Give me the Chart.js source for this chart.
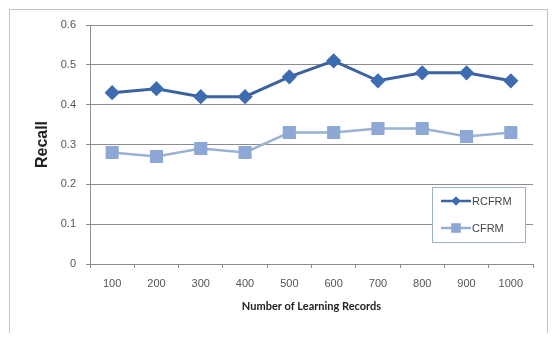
<!DOCTYPE html>
<html>
<head>
<meta charset="utf-8">
<script src="https://cdn.jsdelivr.net/npm/chart.js@4.4.0/dist/chart.umd.min.js"></script>
<style>
  html, body { margin: 0; padding: 0; background: #fff; }
  #wrap { position: relative; width: 554px; height: 349px; }
  #frame { position: absolute; left: 9px; top: 9px; width: 539px; height: 324px;
           border: 1px solid #c4c4c4; border-bottom: none; box-sizing: border-box; }
  canvas { position: absolute; left: 0; top: 0; }
</style>
</head>
<body>
<div id="wrap">
  <div id="frame"></div>
  <canvas id="lineChart" width="554" height="349"></canvas>
</div>
<script>
// data
const records = ['100', '200', '300', '400', '500', '600', '700', '800', '900', '1000'];
const rcfrm = [0.43, 0.44, 0.42, 0.42, 0.47, 0.51, 0.46, 0.48, 0.48, 0.46];
const cfrm = [0.28, 0.27, 0.29, 0.28, 0.33, 0.33, 0.34, 0.34, 0.32, 0.33];
const yTicks = [0, 0.1, 0.2, 0.3, 0.4, 0.5, 0.6];

// legend box drawn inside the plot, like the excel one
const boxLegend = {
  id: 'boxLegend',
  afterDraw(chart) {
    const c = chart.ctx;
    const x = 432, y = 187, w = 93, h = 55;
    c.save();
    c.fillStyle = '#fff';
    c.fillRect(x, y, w, h);
    c.strokeStyle = '#9fb0c4';
    c.lineWidth = 1;
    c.strokeRect(x + 0.5, y + 0.5, w, h);
    chart.data.datasets.forEach((ds, i) => {
      const ly = y + 14 + i * 27;
      c.strokeStyle = ds.borderColor;
      c.lineWidth = 2.5;
      c.beginPath();
      c.moveTo(x + 9, ly);
      c.lineTo(x + 39, ly);
      c.stroke();
      c.fillStyle = ds.pointBackgroundColor;
      Chart.helpers.drawPoint(c, {
        pointStyle: ds.pointStyle,
        radius: ds.pointStyle === 'rect' ? 6.5 : 4.5,
        borderWidth: 0
      }, x + 24, ly);
      c.fill();
      c.fillStyle = '#444';
      c.font = '11px "Liberation Sans", Arial, sans-serif';
      c.textBaseline = 'middle';
      c.fillText(ds.label, x + 40, ly + 1);
    });
    c.restore();
  }
};

const ctx = document.getElementById('lineChart').getContext('2d');
new Chart(ctx, {
  type: 'line',
  data: {
    labels: records,
    datasets: [
      {
        label: 'RCFRM',
        data: rcfrm,
        borderColor: '#3b63a1',
        backgroundColor: '#3e6cb0',
        pointBackgroundColor: '#3e6cb0',
        pointBorderColor: '#3e6cb0',
        pointStyle: 'rectRot',
        pointRadius: 5.5,
        borderWidth: 3,
        tension: 0
      },
      {
        label: 'CFRM',
        data: cfrm,
        borderColor: '#9bb1d4',
        backgroundColor: '#8ea8d6',
        pointBackgroundColor: '#8ea8d6',
        pointBorderColor: '#8ea8d6',
        pointStyle: 'rect',
        pointRadius: 7.5,
        borderWidth: 2.5,
        tension: 0
      }
    ]
  },
  options: {
    responsive: false,
    animation: false,
    layout: { padding: { left: 29, right: 21, top: 25, bottom: 32 } },
    plugins: {
      legend: { display: false },
      tooltip: { enabled: false }
    },
    scales: {
      x: {
        offset: true,
        afterFit: s => { s.height = 53; },
        grid: {
          display: true,
          drawOnChartArea: false,
          offset: true,
          tickLength: 4,
          color: '#8c8c8c'
        },
        border: { color: '#8c8c8c', width: 1 },
        ticks: {
          color: '#555',
          padding: 9,
          maxRotation: 0,
          font: { family: '"Liberation Sans", Arial, sans-serif', size: 11 }
        },
        title: {
          display: true,
          text: 'Number of Learning Records',
          color: '#222',
          padding: 4,
          font: { family: 'Lato, "Open Sans", sans-serif', size: 11, weight: 'bold' }
        }
      },
      y: {
        min: 0,
        max: 0.6,
        afterFit: s => { s.width = 61; },
        afterBuildTicks: s => { s.ticks = yTicks.map(v => ({ value: v })); },
        grid: {
          color: '#8c8c8c',
          tickLength: 4
        },
        border: { color: '#8c8c8c', width: 1 },
        ticks: {
          color: '#555',
          padding: 10,
          callback: v => String(v),
          font: { family: '"Liberation Sans", Arial, sans-serif', size: 11 }
        },
        title: {
          display: true,
          text: 'Recall',
          color: '#222',
          padding: 4,
          font: { family: '"Liberation Sans", Arial, sans-serif', size: 16, weight: 'bold' }
        }
      }
    }
  },
  plugins: [boxLegend]
});
</script>
</body>
</html>
